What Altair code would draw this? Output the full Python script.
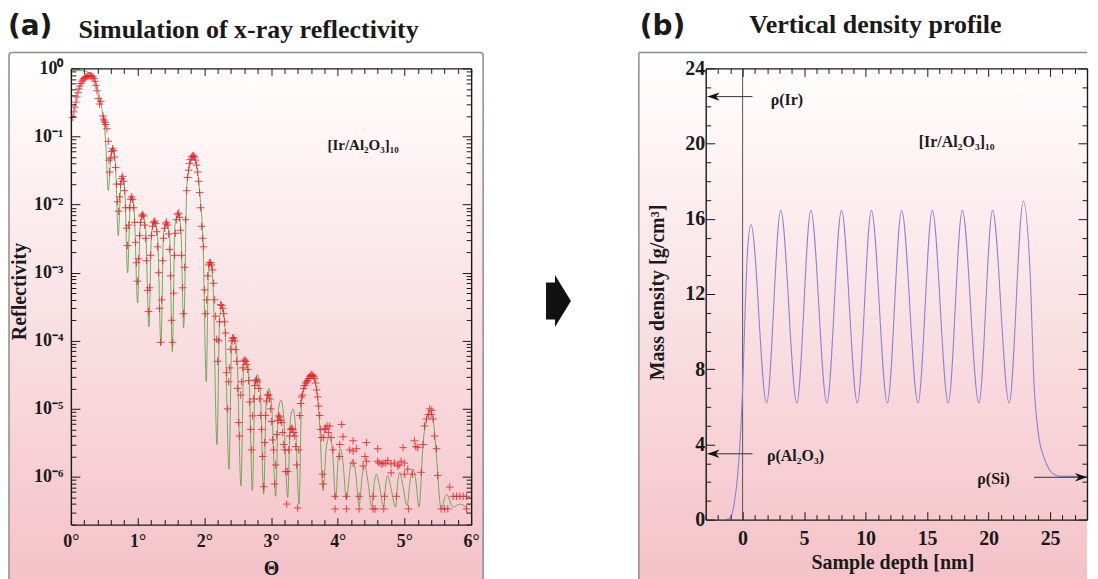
import json
import altair as alt
import pandas as pd

# ---------------- (a) X-ray reflectivity ----------------
# simulated curve (green line): (theta in degrees, reflectivity)
SIM_CURVE = [
    (0.00, 0.93), (0.10, 0.93), (0.20, 0.92), (0.27, 0.87), (0.33, 0.78), (0.38, 0.6),
    (0.42, 0.42), (0.46, 0.27), (0.50, 0.15), (0.53, 0.06), (0.56, 0.016), (0.60, 0.05),
    (0.63, 0.068), (0.67, 0.035), (0.71, 0.0035), (0.75, 0.02), (0.78, 0.025), (0.81, 0.015),
    (0.85, 0.001), (0.89, 0.01), (0.92, 0.013), (0.95, 0.008), (1.00, 0.00036), (1.04, 0.005),
    (1.08, 0.007), (1.12, 0.0045), (1.17, 0.00016), (1.21, 0.004), (1.26, 0.0056), (1.30, 0.0035),
    (1.35, 0.000087), (1.39, 0.004), (1.44, 0.0054), (1.48, 0.0035), (1.52, 0.000069), (1.56, 0.005),
    (1.61, 0.0074), (1.65, 0.004), (1.69, 0.000155), (1.74, 0.02), (1.79, 0.04), (1.84, 0.05),
    (1.89, 0.035), (1.94, 0.012), (1.98, 0.003), (2.03, 0.000025), (2.06, 0.0009), (2.09, 0.0014),
    (2.13, 0.0007), (2.19, 0.000003), (2.23, 0.00022), (2.27, 0.00032), (2.31, 0.00015),
    (2.37, 0.0000013), (2.41, 0.00008), (2.45, 0.000115), (2.49, 0.00006), (2.55, 7.4e-7),
    (2.59, 0.00004), (2.63, 0.000056), (2.67, 0.00003), (2.72, 6.3e-7), (2.76, 0.000022),
    (2.80, 0.000032), (2.84, 0.000018), (2.89, 5.6e-7), (2.93, 0.000014), (2.97, 0.00002),
    (3.01, 0.000011), (3.07, 5.2e-7), (3.11, 0.0000095), (3.15, 0.0000135), (3.19, 0.0000075),
    (3.25, 5e-7), (3.29, 0.000007), (3.33, 0.00001), (3.37, 0.000005), (3.42, 4e-7),
    (3.46, 0.000014), (3.53, 0.000025), (3.61, 0.000031), (3.69, 0.000017), (3.73, 0.0000056),
    (3.78, 6.3e-7), (3.83, 0.0000028), (3.88, 0.000004), (3.92, 0.0000025), (3.97, 4.7e-7),
    (4.01, 0.000002), (4.04, 0.0000026), (4.08, 0.0000016), (4.13, 4.7e-7), (4.19, 0.0000014),
    (4.23, 0.0000018), (4.27, 0.0000011), (4.32, 3.8e-7), (4.37, 0.0000011), (4.41, 0.00000145),
    (4.45, 9e-7), (4.51, 3.6e-7), (4.55, 8.5e-7), (4.58, 0.0000011), (4.62, 8e-7), (4.69, 3.6e-7),
    (4.72, 8e-7), (4.75, 0.00000105), (4.79, 7.5e-7), (4.87, 3.6e-7), (4.90, 8.5e-7),
    (4.93, 0.00000117), (4.97, 8e-7), (5.04, 3.8e-7), (5.09, 9.5e-7), (5.13, 0.0000013),
    (5.17, 9e-7), (5.22, 3.6e-7), (5.28, 0.0000032), (5.33, 0.000007), (5.38, 0.0000093),
    (5.43, 0.000007), (5.48, 0.000002), (5.55, 3.4e-7), (5.63, 5.6e-7), (5.73, 3.6e-7),
    (5.83, 4e-7), (5.95, 3.4e-7),
]

# measured data (red crosses): (theta in degrees, reflectivity)
MEASURED = [
    (0.03, 0.19), (0.045, 0.23), (0.06, 0.27), (0.075, 0.32), (0.09, 0.38), (0.105, 0.44),
    (0.12, 0.5), (0.135, 0.55), (0.15, 0.6), (0.165, 0.65), (0.18, 0.68), (0.195, 0.71),
    (0.21, 0.73), (0.225, 0.75), (0.24, 0.76), (0.255, 0.77), (0.27, 0.78), (0.285, 0.78),
    (0.30, 0.78), (0.315, 0.77), (0.33, 0.75), (0.345, 0.71), (0.36, 0.65), (0.375, 0.56),
    (0.39, 0.47), (0.41, 0.36), (0.43, 0.3), (0.45, 0.33), (0.48, 0.2), (0.49, 0.18),
    (0.50, 0.17), (0.51, 0.16), (0.52, 0.15), (0.54, 0.13), (0.56, 0.085), (0.57, 0.045),
    (0.58, 0.03), (0.595, 0.048), (0.61, 0.06), (0.625, 0.066), (0.64, 0.062), (0.655, 0.05),
    (0.67, 0.035), (0.685, 0.02), (0.70, 0.011), (0.715, 0.008), (0.73, 0.013), (0.745, 0.02),
    (0.76, 0.024), (0.775, 0.026), (0.79, 0.022), (0.805, 0.016), (0.82, 0.009), (0.835, 0.0045),
    (0.85, 0.0025), (0.865, 0.005), (0.88, 0.009), (0.895, 0.012), (0.91, 0.013), (0.925, 0.012),
    (0.94, 0.009), (0.955, 0.0055), (0.97, 0.0028), (0.985, 0.0014), (1.00, 0.00075),
    (1.015, 0.0016), (1.03, 0.0035), (1.045, 0.0055), (1.06, 0.0068), (1.075, 0.0072),
    (1.09, 0.0068), (1.105, 0.005), (1.12, 0.0032), (1.135, 0.0015), (1.15, 0.00055),
    (1.165, 0.00027), (1.18, 0.0006), (1.195, 0.0018), (1.21, 0.0035), (1.225, 0.0048),
    (1.24, 0.0055), (1.255, 0.0057), (1.27, 0.0053), (1.285, 0.004), (1.30, 0.0024),
    (1.315, 0.001), (1.33, 0.0003), (1.345, 0.000095), (1.36, 0.0004), (1.375, 0.0015),
    (1.39, 0.0032), (1.405, 0.0045), (1.42, 0.0052), (1.435, 0.0055), (1.45, 0.005),
    (1.465, 0.0037), (1.48, 0.0022), (1.495, 0.0009), (1.51, 0.0002), (1.525, 0.000095),
    (1.54, 0.0005), (1.555, 0.0018), (1.57, 0.0038), (1.585, 0.006), (1.60, 0.0072),
    (1.615, 0.0075), (1.63, 0.0065), (1.645, 0.0042), (1.66, 0.0018), (1.675, 0.0006),
    (1.69, 0.00025), (1.705, 0.0012), (1.72, 0.006), (1.735, 0.016), (1.75, 0.025),
    (1.765, 0.032), (1.78, 0.04), (1.795, 0.046), (1.81, 0.05), (1.825, 0.052), (1.84, 0.052),
    (1.855, 0.05), (1.87, 0.045), (1.885, 0.038), (1.90, 0.03), (1.915, 0.022), (1.93, 0.015),
    (1.945, 0.009), (1.96, 0.0048), (1.975, 0.0032), (1.99, 0.0024), (2.005, 0.00056),
    (2.02, 0.00025), (2.035, 0.0004), (2.05, 0.0009), (2.065, 0.0013), (2.08, 0.0014),
    (2.095, 0.0014), (2.11, 0.0013), (2.125, 0.0011), (2.14, 0.0007), (2.155, 0.0004),
    (2.17, 0.00023), (2.185, 0.000105), (2.20, 0.00005), (2.215, 0.0001), (2.23, 0.00019),
    (2.245, 0.00034), (2.26, 0.00033), (2.275, 0.0003), (2.29, 0.00025), (2.305, 0.00019),
    (2.32, 0.00013), (2.335, 0.000034), (2.35, 0.00001), (2.365, 0.000025), (2.38, 0.00004),
    (2.395, 0.000075), (2.41, 0.0001), (2.425, 0.00011), (2.44, 0.00011), (2.455, 0.0001),
    (2.47, 0.000074), (2.485, 0.00005), (2.50, 0.00002), (2.515, 0.0000063), (2.53, 0.000004),
    (2.545, 0.000016), (2.56, 0.000025), (2.575, 0.00004), (2.59, 0.00005), (2.605, 0.000052),
    (2.62, 0.00005), (2.635, 0.000045), (2.65, 0.000038), (2.665, 0.000026), (2.68, 0.0000126),
    (2.695, 0.000005), (2.71, 0.0000025), (2.725, 0.0000079), (2.74, 0.000014), (2.755, 0.000022),
    (2.77, 0.000026), (2.785, 0.000027), (2.80, 0.000025), (2.815, 0.00002), (2.83, 0.000014),
    (2.845, 0.000008), (2.86, 0.000005), (2.875, 0.000002), (2.89, 7.2e-7), (2.905, 0.0000032),
    (2.92, 0.000008), (2.935, 0.000013), (2.95, 0.000016), (2.965, 0.000016), (2.98, 0.000014),
    (2.995, 0.00001), (3.01, 0.0000065), (3.025, 0.0000035), (3.04, 0.0000025), (3.055, 7.9e-7),
    (3.07, 0.0000015), (3.085, 0.0000042), (3.10, 0.0000068), (3.115, 0.0000079), (3.13, 0.0000076),
    (3.145, 0.0000068), (3.16, 0.0000063), (3.175, 0.0000045), (3.19, 0.000003), (3.205, 0.0000025),
    (3.22, 0.0000012), (3.235, 4e-7), (3.25, 0.0000012), (3.265, 0.0000025), (3.28, 0.000004),
    (3.295, 0.000005), (3.31, 0.0000052), (3.325, 0.000005), (3.34, 0.0000045), (3.355, 0.000004),
    (3.37, 0.0000028), (3.385, 0.0000015), (3.40, 3.5e-7), (3.415, 0.0000025), (3.43, 0.000008),
    (3.445, 0.000012), (3.46, 0.000015), (3.475, 0.000016), (3.49, 0.00002), (3.505, 0.000022),
    (3.52, 0.000024), (3.535, 0.000025), (3.55, 0.000026), (3.565, 0.000028), (3.58, 0.00003),
    (3.595, 0.000031), (3.61, 0.000032), (3.625, 0.000031), (3.64, 0.00003), (3.655, 0.000028),
    (3.67, 0.000024), (3.685, 0.000019), (3.70, 0.000015), (3.715, 0.000011), (3.73, 0.000008),
    (3.745, 0.000005), (3.76, 0.0000038), (3.775, 0.0000011), (3.78, 7.9e-7), (3.79, 0.0000038),
    (3.805, 0.000005), (3.82, 0.0000052), (3.84, 0.0000056), (3.86, 0.0000045), (3.88, 0.0000056),
    (3.90, 0.0000038), (3.93, 0.0000025), (3.96, 5.2e-7), (3.96, 3.4e-7), (4.03, 0.000003),
    (4.03, 0.000002), (4.06, 0.0000059), (4.08, 0.0000039), (4.13, 5.2e-7), (4.13, 3.4e-7),
    (4.18, 0.0000025), (4.23, 0.0000034), (4.23, 0.0000024), (4.23, 0.0000016), (4.28, 0.0000026),
    (4.32, 5.2e-7), (4.32, 3.4e-7), (4.38, 0.00000145), (4.41, 0.000002), (4.43, 0.0000032),
    (4.43, 0.0000017), (4.53, 5.2e-7), (4.53, 3.4e-7), (4.56, 3.4e-7), (4.60, 0.0000026),
    (4.60, 0.0000017), (4.62, 0.0000016), (4.66, 0.00000155), (4.68, 0.0000016), (4.69, 3.4e-7),
    (4.70, 5.2e-7), (4.72, 0.0000016), (4.75, 0.00000174), (4.80, 0.00000155), (4.80, 0.00000115),
    (4.85, 0.0000016), (4.88, 5.2e-7), (4.90, 0.00000145), (4.92, 0.0000015), (4.95, 0.0000017),
    (4.98, 0.0000027), (5.00, 0.0000011), (5.00, 0.0000016), (5.05, 0.0000013), (5.06, 3.4e-7),
    (5.12, 0.0000011), (5.15, 0.0000034), (5.17, 0.0000028), (5.20, 0.0000027), (5.25, 0.00000117),
    (5.28, 0.000003), (5.30, 0.0000056), (5.33, 0.0000071), (5.36, 0.0000083), (5.38, 0.00001),
    (5.40, 0.0000083), (5.41, 0.0000095), (5.43, 0.0000071), (5.45, 0.000004), (5.48, 0.0000026),
    (5.50, 0.00000105), (5.55, 3.4e-7), (5.60, 3.4e-7), (5.65, 3.4e-7), (5.68, 7.1e-7),
    (5.73, 5.2e-7), (5.78, 5.2e-7), (5.83, 5.2e-7), (5.88, 5.2e-7), (5.93, 5.2e-7), (5.93, 3.4e-7),
]

REFL_DECADES = [1, 1e-1, 1e-2, 1e-3, 1e-4, 1e-5, 1e-6]
REFL_LABELS = ["10⁰", "10⁻¹", "10⁻²", "10⁻³", "10⁻⁴", "10⁻⁵", "10⁻⁶"]
THETA_LABELS = [0, 1, 2, 3, 4, 5, 6]
A_TEXT = ["[Ir/Al₂O₃]₁₀"]
A_TEXT_THETA = [4.38]
A_TEXT_R = [0.075]

# ---------------- (b) vertical density profile ----------------
DEPTH_NM = [
    -1.3, -1.0, -0.7, -0.4, -0.2, 0.0, 0.2, 0.4, 0.68,
    1.95, 3.10, 4.41, 5.55, 6.85, 8.04, 9.33, 10.47, 11.77, 12.93, 14.26, 15.42,
    16.72, 17.86, 19.21, 20.32, 21.67, 22.82,
    23.40, 23.67, 24.0, 24.5, 25.0, 25.5, 26.0, 28.0,
]
DENSITY = [
    0.0, 0.1, 0.8, 2.4, 4.2, 7.0, 11.0, 14.3, 15.7,
    6.2, 16.45, 6.2, 16.45, 6.2, 16.45, 6.2, 16.45, 6.2, 16.45, 6.2, 16.45,
    6.2, 16.45, 6.2, 16.45, 6.2, 16.95,
    12.8, 7.5, 4.8, 3.3, 2.6, 2.35, 2.3, 2.3,
]
RHO_LABELS = [0, 4, 8, 12, 16, 20, 24]
DEPTH_LABELS = [0, 5, 10, 15, 20, 25]
B_TEXT = ["ρ(Ir)", "[Ir/Al₂O₃]₁₀", "ρ(Al₂O₃)", "ρ(Si)"]
B_TEXT_DEPTH = [3.6, 17.4, 4.3, 20.4]
B_TEXT_RHO = [22.3, 20.1, 3.4, 2.15]
ARROW_FROM = [0.8, 0.8, 23.7]
ARROW_TO = [-2.85, -2.85, 28.0]
ARROW_RHO = [22.5, 3.5, 2.25]
ARROW_DIR = ["left", "left", "right"]
SURFACE_DEPTH = [0.0]

# ---------------- style ----------------
SERIF = "Liberation Serif"
INK = "#1a1a1a"
W1, H1 = 401, 457
W2, H2 = 382, 452
GRAD = {
    "gradient": "linear", "x1": 0, "y1": 0, "x2": 0, "y2": 1,
    "stops": [{"offset": 0, "color": "#ffffff"}, {"offset": 1, "color": "#f4c2c8"}],
}
FRAME_GREY = "#8c8c8c"
CROSS = "M-1,0L1,0M0,-1L0,1"
HEAD_L = "M0,0L2,-0.7L1.4,0L2,0.7Z"
HEAD_R = "M0,0L-2,-0.7L-1.4,0L-2,0.7Z"
BIG_ARROW = "M-0.96,-1.42L-0.27,-1.42L-0.27,-2L0.96,0L-0.27,2L-0.27,1.42L-0.96,1.42Z"

ONE = pd.DataFrame({"k": [0]})

THETA_TICKS = [round(0.2 * k, 1) for k in range(31)]
LOG_TICKS = [m * 10.0 ** e for e in range(-7, 1) for m in range(1, 10) if 1.9e-7 <= m * 10.0 ** e <= 1.0]
RHO_TICKS = list(range(0, 25))
DEPTH_TICKS = list(range(-3, 29))


def label_axis(orient, values, title, size, pad, **kw):
    d = dict(orient=orient, values=values, ticks=False, tickSize=0, domain=False, grid=False,
             labelFont=SERIF, labelFontSize=size, labelFontWeight="bold", labelColor=INK,
             labelPadding=pad, labelFlush=False, labelOverlap=False,
             title=title, titleFont=SERIF, titleFontSize=20, titleFontWeight="bold",
             titleColor=INK, titleBaseline="middle", zindex=1)
    d.update(kw)
    return alt.Axis(**d)


def tick_axis(orient, offset, values, test, major, minor):
    return alt.Axis(orient=orient, offset=offset, values=values, labels=False, title=None,
                    grid=False, domain=True, domainColor=INK, domainWidth=1.4,
                    ticks=True, tickColor=INK, tickWidth=1,
                    tickSize={"condition": {"test": test, "value": major}, "value": minor},
                    zindex=1)


def panel_fill(x0, x1, y0, y1, stroked):
    kw = dict(stroke=FRAME_GREY, strokeWidth=1.5, cornerRadius=3) if stroked else dict(strokeWidth=0)
    return alt.Chart(ONE).mark_rect(fill=GRAD, **kw).encode(
        x=alt.value(x0), x2=alt.value(x1), y=alt.value(y0), y2=alt.value(y1))


def edge(x0, x1, y0, y1):
    return alt.Chart(ONE).mark_rule(color=FRAME_GREY, strokeWidth=1.5).encode(
        x=alt.value(x0), x2=alt.value(x1), y=alt.value(y0), y2=alt.value(y1))


def anchor(x, y):
    # invisible 1px box fixing the top-left corner of the drawing
    return alt.Chart(ONE).mark_rect(opacity=0).encode(
        x=alt.value(x), x2=alt.value(x + 1), y=alt.value(y), y2=alt.value(y + 1))


def deco_text(txt, x, y, size, font, align="left", baseline="alphabetic"):
    return alt.Chart(ONE).mark_text(text=txt, font=font, fontSize=size, fontWeight="bold",
                                    align=align, baseline=baseline, color=INK).encode(
        x=alt.value(x), y=alt.value(y))


# ---------------- panel (a) ----------------
sim_df = pd.DataFrame(SIM_CURVE, columns=["theta", "R"])
meas_df = pd.DataFrame(MEASURED, columns=["theta", "R"])
a_txt_df = pd.DataFrame({"theta": A_TEXT_THETA, "R": A_TEXT_R, "t": A_TEXT})

xs_a = alt.Scale(domain=[0, 6], nice=False, zero=False)
ys_a = alt.Scale(type="log", domain=[2e-7, 1], nice=False)

log_expr = json.dumps(REFL_LABELS, ensure_ascii=False) + "[round(-log(datum.value)/LN10)]"
major_log = "abs(log(datum.value)/LN10 - round(log(datum.value)/LN10)) < 0.001"
major_deg = "abs(datum.value - round(datum.value)) < 0.001"

line_a = alt.Chart(sim_df).mark_line(color="#62a34a", strokeWidth=0.9, interpolate="monotone").encode(
    x=alt.X("theta:Q", scale=xs_a,
            axis=label_axis("bottom", THETA_LABELS, "Θ", 18, 8, labelExpr="datum.value + '°'", titleY=44)),
    y=alt.Y("R:Q", scale=ys_a,
            axis=label_axis("left", REFL_DECADES, "Reflectivity", 18, 8, labelExpr=log_expr,
                            titleX=-51, titleY=223, titleAngle=-90)),
)
cross_a = alt.Chart(meas_df).mark_point(shape=CROSS, filled=False, size=56, strokeWidth=1,
                                        color="#e3262b", opacity=0.85).encode(
    x=alt.X("theta:Q", scale=xs_a, axis=tick_axis("top", -H1, THETA_TICKS, major_deg, 7, 5)),
    y=alt.Y("R:Q", scale=ys_a, axis=tick_axis("right", -W1, LOG_TICKS, major_log, 9, 5)),
)
ghost_a = alt.Chart(meas_df).mark_point(opacity=0).encode(
    x=alt.X("theta:Q", scale=xs_a, axis=tick_axis("bottom", -H1, THETA_TICKS, major_deg, 7, 5)),
    y=alt.Y("R:Q", scale=ys_a, axis=tick_axis("left", -W1, LOG_TICKS, major_log, 9, 5)),
)
text_a = alt.Chart(a_txt_df).mark_text(font=SERIF, fontSize=15, fontWeight="bold", color=INK,
                                       align="center", baseline="middle").encode(
    x=alt.X("theta:Q", scale=xs_a, axis=None),
    y=alt.Y("R:Q", scale=ys_a, axis=None),
    text="t:N",
)
mid_arrow = alt.Chart(ONE).mark_point(shape=BIG_ARROW, filled=True, size=676, color="#111111",
                                      opacity=1, strokeWidth=0).encode(
    x=alt.value(488.5), y=alt.value(233))

left = alt.layer(
    anchor(-63, -60),
    panel_fill(-62, 413, -16, 516, True),
    deco_text("(a)", -63, -33.5, 28, "DejaVu Sans"),
    deco_text("Simulation of x-ray reflectivity", 178, -30, 26, SERIF, align="center"),
    mid_arrow,
    line_a, cross_a, ghost_a, text_a,
).resolve_axis(x="independent", y="independent").properties(width=W1, height=H1)

# ---------------- panel (b) ----------------
prof_df = pd.DataFrame({"depth": DEPTH_NM, "rho": DENSITY})
b_txt_df = pd.DataFrame({"depth": B_TEXT_DEPTH, "rho": B_TEXT_RHO, "t": B_TEXT})
arrow_df = pd.DataFrame({"x0": ARROW_FROM, "x1": ARROW_TO, "rho": ARROW_RHO, "dir": ARROW_DIR})
surf_df = pd.DataFrame({"depth": SURFACE_DEPTH, "lo": [RHO_LABELS[0]], "hi": [RHO_LABELS[-1]]})

xs_b = alt.Scale(domain=[-3, 28], nice=False, zero=False)
ys_b = alt.Scale(domain=[0, 24], nice=False, zero=False)

line_b = alt.Chart(prof_df).mark_line(color="#8b83d6", strokeWidth=1.1, interpolate="monotone").encode(
    x=alt.X("depth:Q", scale=xs_b,
            axis=label_axis("bottom", DEPTH_LABELS, "Sample depth [nm]", 20, 9, titleY=43, titleX=187)),
    y=alt.Y("rho:Q", scale=ys_b,
            axis=label_axis("left", RHO_LABELS, "Mass density [g/cm³]", 20, 1,
                            titleX=-48, titleY=224, titleAngle=-90)),
)
ghost_b1 = alt.Chart(prof_df).mark_point(opacity=0).encode(
    x=alt.X("depth:Q", scale=xs_b, axis=tick_axis("top", -H2, DEPTH_TICKS, "datum.value % 5 == 0", 8, 5)),
    y=alt.Y("rho:Q", scale=ys_b, axis=tick_axis("right", -W2, RHO_TICKS, "datum.value % 4 == 0", 9, 5)),
)
ghost_b2 = alt.Chart(prof_df).mark_point(opacity=0).encode(
    x=alt.X("depth:Q", scale=xs_b, axis=tick_axis("bottom", -H2, DEPTH_TICKS, "datum.value % 5 == 0", 8, 5)),
    y=alt.Y("rho:Q", scale=ys_b, axis=tick_axis("left", -W2, RHO_TICKS, "datum.value % 4 == 0", 9, 5)),
)
surf_b = alt.Chart(surf_df).mark_rule(color="#555555", strokeWidth=1).encode(
    x=alt.X("depth:Q", scale=xs_b, axis=None),
    y=alt.Y("lo:Q", scale=ys_b, axis=None), y2="hi:Q",
)
arrows_b = alt.Chart(arrow_df).mark_rule(color="#333333", strokeWidth=1).encode(
    x=alt.X("x0:Q", scale=xs_b, axis=None), x2="x1:Q",
    y=alt.Y("rho:Q", scale=ys_b, axis=None),
)
heads_b = alt.Chart(arrow_df).mark_point(filled=True, size=144, color="#111111", opacity=1,
                                         strokeWidth=0).encode(
    x=alt.X("x1:Q", scale=xs_b, axis=None),
    y=alt.Y("rho:Q", scale=ys_b, axis=None),
    shape=alt.Shape("dir:N", scale=alt.Scale(domain=["left", "right"], range=[HEAD_L, HEAD_R]), legend=None),
)
text_b = alt.Chart(b_txt_df).mark_text(font=SERIF, fontSize=16, fontWeight="bold", color=INK,
                                       align="center", baseline="middle").encode(
    x=alt.X("depth:Q", scale=xs_b, axis=None),
    y=alt.Y("rho:Q", scale=ys_b, axis=None),
    text="t:N",
)

# the panel's gradient runs up to the plot's right edge, keeping the page within the window
right = alt.layer(
    panel_fill(-67, W2, -16, 516, False),
    edge(-67, W2, -16, -16),
    edge(-67, -67, -16, 516),
    deco_text("(b)", -66, -33.5, 28, "DejaVu Sans"),
    deco_text("Vertical density profile", 170, -35, 26, SERIF, align="center"),
    surf_b, line_b, arrows_b, heads_b, ghost_b1, ghost_b2, text_b,
).resolve_axis(x="independent", y="independent").properties(width=W2, height=H2)

chart = alt.hconcat(left, right, spacing=235, bounds="flush").properties(
    padding=0, background="white"
).configure_view(strokeWidth=0)

chart.save("out.html", embed_options={"renderer": "svg", "actions": False})
